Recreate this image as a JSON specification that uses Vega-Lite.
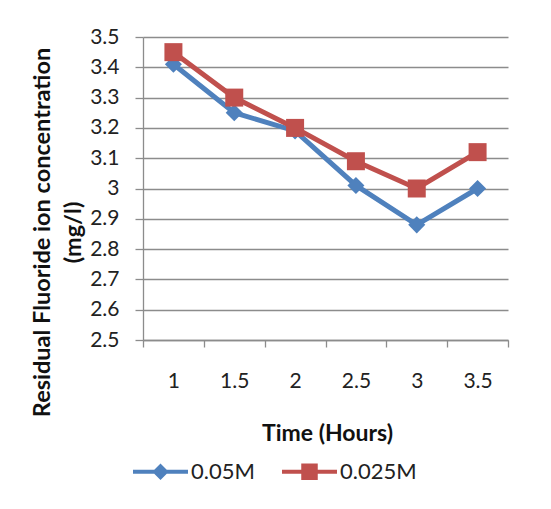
{
  "$schema": "https://vega.github.io/schema/vega-lite/v6.json",
  "width": 365,
  "height": 303,
  "autosize": "none",
  "padding": {"left": 143, "top": 37, "right": 43, "bottom": 169},
  "background": "white",
  "config": {"view": {"stroke": null}, "font": "Lato"},
  "data": {
    "values": [
      {"time": 1, "conc": 3.41, "series": "0.05M"},
      {"time": 1.5, "conc": 3.25, "series": "0.05M"},
      {"time": 2, "conc": 3.19, "series": "0.05M"},
      {"time": 2.5, "conc": 3.01, "series": "0.05M"},
      {"time": 3, "conc": 2.88, "series": "0.05M"},
      {"time": 3.5, "conc": 3.0, "series": "0.05M"},
      {"time": 1, "conc": 3.45, "series": "0.025M"},
      {"time": 1.5, "conc": 3.3, "series": "0.025M"},
      {"time": 2, "conc": 3.2, "series": "0.025M"},
      {"time": 2.5, "conc": 3.09, "series": "0.025M"},
      {"time": 3, "conc": 3.0, "series": "0.025M"},
      {"time": 3.5, "conc": 3.12, "series": "0.025M"}
    ]
  },
  "encoding": {
    "y": {
      "field": "conc",
      "type": "quantitative",
      "scale": {"domain": [2.5, 3.5], "nice": false, "zero": false},
      "axis": {
        "values": [2.5, 2.6, 2.7, 2.8, 2.9, 3.0, 3.1, 3.2, 3.3, 3.4, 3.5],
        "format": ".1~f",
        "grid": true,
        "gridColor": "#8c8c8c",
        "gridWidth": 1.3,
        "domainColor": "#8c8c8c",
        "domainWidth": 1.3,
        "tickColor": "#8c8c8c",
        "tickWidth": 1.3,
        "tickSize": 8,
        "labelFontSize": 21,
        "labelColor": "#222222",
        "labelPadding": 16,
        "title": ["Residual Fluoride  ion concentration", "(mg/l)"],
        "titleFontSize": 23.5,
        "titleFontWeight": "bold",
        "titleColor": "#111111",
        "titleAngle": -90,
        "titleX": -101,
        "titleY": 195,
        "titleAlign": "center",
        "titleBaseline": "middle",
        "titleLineHeight": 31
      }
    },
    "color": {
      "field": "series",
      "type": "nominal",
      "scale": {"domain": ["0.05M", "0.025M"], "range": ["#4F81BD", "#C0504D"]},
      "legend": {
        "title": null,
        "orient": "none",
        "legendX": -10,
        "legendY": 407,
        "direction": "horizontal",
        "symbolSize": 3025,
        "symbolStrokeWidth": 0,
        "symbolOpacity": 1,
        "labelFontSize": 22,
        "labelColor": "#222222",
        "labelOffset": 3,
        "columnPadding": 27
      }
    }
  },
  "layer": [
    {
      "transform": [{"filter": "datum.series === '0.05M'"}],
      "mark": {"type": "line", "strokeWidth": 5},
      "encoding": {
        "x": {
          "field": "time",
          "type": "quantitative",
          "scale": {"domain": [0.75, 3.75], "nice": false, "zero": false},
          "axis": {
            "orient": "bottom",
            "values": [0.75, 1.25, 1.75, 2.25, 2.75, 3.25, 3.75],
            "labels": false,
            "grid": false,
            "tickSize": 7,
            "tickColor": "#8c8c8c",
            "tickWidth": 1.3,
            "domainColor": "#8c8c8c",
            "domainWidth": 1.3,
            "title": "Time (Hours)",
            "titleFontSize": 23,
            "titleFontWeight": "bold",
            "titleColor": "#111111",
            "titleX": 184,
            "titleY": 93,
            "titleAlign": "center",
            "titleBaseline": "middle"
          }
        }
      }
    },
    {
      "transform": [{"filter": "datum.series === '0.05M'"}],
      "mark": {"type": "point", "filled": true, "opacity": 1, "size": 324, "shape": "M0,-0.95L0.95,0L0,0.95L-0.95,0Z"},
      "encoding": {
        "x": {
          "field": "time",
          "type": "quantitative",
          "axis": {
            "orient": "bottom",
            "values": [1, 1.5, 2, 2.5, 3, 3.5],
            "format": "~g",
            "ticks": false,
            "tickSize": 0,
            "domain": false,
            "grid": false,
            "labelFontSize": 21,
            "labelColor": "#222222",
            "labelBaseline": "middle",
            "labelPadding": 41,
            "title": null
          }
        }
      }
    },
    {
      "transform": [{"filter": "datum.series === '0.025M'"}],
      "mark": {"type": "line", "strokeWidth": 5},
      "encoding": {
        "x": {"field": "time", "type": "quantitative", "axis": null}
      }
    },
    {
      "transform": [{"filter": "datum.series === '0.025M'"}],
      "mark": {"type": "point", "filled": true, "opacity": 1, "size": 324, "shape": "M-1,-1L1,-1L1,1L-1,1Z"},
      "encoding": {
        "x": {"field": "time", "type": "quantitative", "axis": null}
      }
    },
    {
      "mark": {"type": "point", "filled": true, "opacity": 1, "size": 0},
      "encoding": {
        "x": {"field": "time", "type": "quantitative", "axis": null},
        "shape": {
          "field": "series",
          "type": "nominal",
          "scale": {
            "domain": ["0.05M", "0.025M"],
            "range": [
              "M-1,-0.075L1,-0.075L1,0.075L-1,0.075Z M0,-0.3L0.3,0L0,0.3L-0.3,0Z",
              "M-1,-0.075L1,-0.075L1,0.075L-1,0.075Z M-0.3,-0.3L0.3,-0.3L0.3,0.3L-0.3,0.3Z"
            ]
          },
          "legend": null
        }
      }
    }
  ],
  "resolve": {"axis": {"x": "independent"}}
}
